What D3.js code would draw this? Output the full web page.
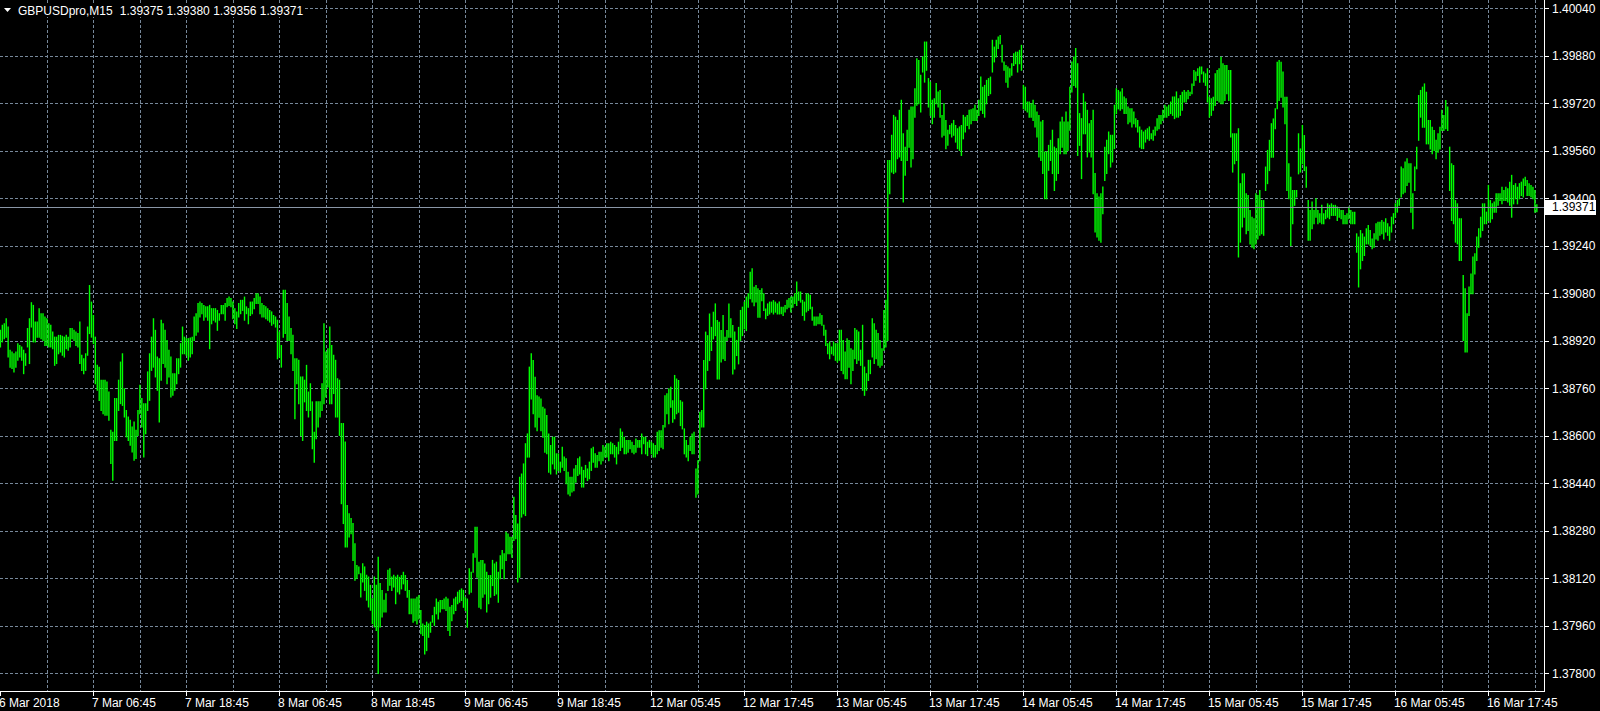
<!DOCTYPE html>
<html>
<head>
<meta charset="utf-8">
<script src="https://cdn.jsdelivr.net/npm/d3@7"></script>
<style>
  html, body { margin: 0; padding: 0; background: #000; overflow: hidden; }
  svg { display: block; }
  text { font-family: "Liberation Sans", Arial, sans-serif; font-size: 12px; fill: #fff; }
</style>
</head>
<body>
<div id="chart"></div>
<script>
// symbol / last bar (open, high, low, close)
var symbol = "GBPUSDpro,M15";
var lastOHLC = [1.39375, 1.39380, 1.39356, 1.39371];

// price axis labels
var priceTicks = [1.37800, 1.37960, 1.38120, 1.38280, 1.38440, 1.38600, 1.38760, 1.38920,
                  1.39080, 1.39240, 1.39400, 1.39560, 1.39720, 1.39880, 1.40040];

// time axis labels, one every 48 bars (12 hours of M15)
var timeLabels = ["6 Mar 2018", "7 Mar 06:45", "7 Mar 18:45", "8 Mar 06:45", "8 Mar 18:45",
                  "9 Mar 06:45", "9 Mar 18:45", "12 Mar 05:45", "12 Mar 17:45", "13 Mar 05:45",
                  "13 Mar 17:45", "14 Mar 05:45", "14 Mar 17:45", "15 Mar 05:45", "15 Mar 17:45",
                  "16 Mar 05:45", "16 Mar 17:45"];
var timeLabelBars = [0, 48, 96, 144, 192, 240, 288, 336, 384, 432, 480, 528, 576, 624, 672, 720, 768];

// bar highs, oldest first
var highs = [
1.38957,1.38974,1.38979,1.38996,1.38968,1.38890,1.38884,1.38878,1.38884,1.38912,
1.38906,1.38901,1.38890,1.38878,1.38963,1.38996,1.39050,1.39041,1.38985,1.38985,
1.39030,1.39013,1.39013,1.39002,1.38996,1.38979,1.38974,1.38951,1.38934,1.38934,
1.38940,1.38940,1.38937,1.38934,1.38940,1.38934,1.38963,1.38963,1.38957,1.38951,
1.38946,1.38985,1.38873,1.38861,1.38878,1.38968,1.39108,1.39052,1.39007,1.38934,
1.38839,1.38833,1.38789,1.38789,1.38789,1.38783,1.38749,1.38620,1.38614,1.38727,
1.38727,1.38789,1.38850,1.38878,1.38760,1.38687,1.38665,1.38654,1.38631,1.38648,
1.38620,1.38687,1.38772,1.38727,1.38710,1.38710,1.38817,1.38878,1.38934,1.38996,
1.38957,1.38867,1.38861,1.38991,1.38979,1.38957,1.38923,1.38890,1.38867,1.38811,
1.38811,1.38861,1.38861,1.38912,1.38968,1.38934,1.38929,1.38929,1.38931,1.38934,
1.39002,1.39013,1.39047,1.39052,1.39047,1.39041,1.39036,1.39036,1.39041,1.39030,
1.39030,1.39030,1.39024,1.39013,1.39041,1.39041,1.39047,1.39064,1.39069,1.39064,
1.39052,1.39030,1.39019,1.39047,1.39058,1.39058,1.39069,1.39036,1.39030,1.39052,
1.39052,1.39064,1.39080,1.39080,1.39069,1.39047,1.39041,1.39036,1.39030,1.39024,
1.39019,1.39007,1.39002,1.38991,1.38951,1.38906,1.39092,1.39092,1.39047,1.39002,
1.38963,1.38940,1.38861,1.38861,1.38856,1.38800,1.38800,1.38789,1.38839,1.38749,
1.38777,1.38716,1.38614,1.38716,1.38716,1.38716,1.38777,1.38979,1.38884,1.38895,
1.38968,1.38906,1.38873,1.38856,1.38794,1.38789,1.38643,1.38643,1.38581,1.38367,
1.38339,1.38323,1.38306,1.38238,1.38165,1.38160,1.38137,1.38171,1.38160,1.38132,
1.38126,1.38098,1.38053,1.38126,1.38098,1.38193,1.38104,1.38081,1.38048,1.38070,
1.38149,1.38154,1.38126,1.38132,1.38126,1.38132,
1.38125,1.38131,1.38142,1.38131,1.38114,1.38081,1.38052,1.38052,1.38052,1.38058,
1.38064,1.38013,1.37968,1.37963,1.37974,1.37968,1.37974,1.37996,1.38024,1.38052,
1.38041,1.38047,1.38047,1.38052,1.38058,1.38052,1.38024,1.38030,1.38052,1.38058,
1.38075,1.38081,1.38086,1.38081,1.38058,1.38052,1.38154,1.38142,1.38204,1.38294,
1.38294,1.38176,1.38182,1.38182,1.38170,1.38142,1.38131,1.38131,1.38182,1.38170,
1.38176,1.38142,1.38198,1.38215,1.38204,1.38277,1.38271,1.38260,1.38260,1.38395,
1.38333,1.38305,1.38462,1.38473,1.38507,1.38575,1.38608,1.38833,1.38878,1.38855,
1.38799,1.38737,1.38732,1.38726,1.38698,1.38692,1.38670,1.38608,1.38569,1.38597,
1.38597,1.38541,1.38541,1.38513,1.38563,1.38530,1.38524,1.38479,1.38462,1.38462,
1.38490,1.38502,1.38524,1.38530,1.38496,1.38485,1.38502,1.38490,1.38513,1.38558,
1.38563,1.38541,1.38535,1.38546,1.38546,1.38569,1.38563,1.38575,1.38575,1.38580,
1.38575,1.38569,1.38563,1.38580,1.38625,1.38614,1.38597,1.38586,1.38586,1.38586,
1.38580,1.38569,1.38591,1.38586,1.38586,1.38608,1.38597,1.38597,1.38580,1.38586,
1.38580,1.38575,1.38569,1.38614,1.38619,1.38619,1.38636,1.38737,1.38743,1.38760,
1.38765,1.38720,1.38805,1.38793,1.38788,1.38720,1.38715,1.38625,1.38586,1.38569,
1.38597,1.38608,1.38614,1.38490,1.38518,1.38681,1.38687,1.38855,1.38951,1.38939,
1.39012,1.38967,1.39018,1.39046,1.38990,1.38984,1.38956,1.39007,1.38934,1.38956,
1.39046,1.38996,1.38973,1.38951,1.38923,1.38967,1.39024,1.39035,1.39052,1.39069,
1.39080,1.39153,1.39164,1.39102,1.39108,1.39097,1.39091,1.39097,1.39080,1.39029,
1.39046,1.39052,1.39052,1.39057,1.39052,1.39046,1.39052,
1.39035,1.39035,1.39041,1.39058,1.39064,1.39069,1.39069,1.39080,1.39120,1.39086,
1.39086,1.39058,1.39052,1.39080,1.39080,1.39075,1.39035,1.39002,1.39002,1.39002,
1.39013,1.39007,1.38974,1.38957,1.38912,1.38918,1.38901,1.38918,1.38912,1.38912,
1.38957,1.38957,1.38923,1.38884,1.38929,1.38923,1.38895,1.38890,1.38963,1.38957,
1.38951,1.38890,1.38974,1.38833,1.38811,1.38856,1.38856,1.38996,1.38979,1.38957,
1.38946,1.38923,1.38895,1.39024,1.39058,1.39529,1.39529,1.39614,1.39681,1.39675,
1.39664,1.39698,1.39732,1.39619,1.39574,1.39631,1.39698,1.39709,1.39709,1.39771,
1.39872,1.39866,1.39816,1.39878,1.39928,1.39928,1.39805,1.39793,1.39732,1.39737,
1.39788,1.39760,1.39765,1.39681,1.39720,1.39664,1.39631,1.39647,1.39653,1.39664,
1.39647,1.39636,1.39642,1.39647,1.39681,1.39675,1.39681,1.39698,1.39700,1.39703,
1.39715,1.39698,1.39732,1.39810,1.39776,1.39782,1.39799,1.39805,1.39810,1.39934,
1.39911,1.39934,1.39945,1.39950,1.39917,1.39861,1.39849,1.39844,1.39838,1.39855,
1.39889,1.39894,1.39894,1.39900,1.39917,1.39782,1.39776,1.39726,1.39726,1.39720,
1.39732,1.39715,1.39692,1.39681,1.39659,1.39664,1.39558,1.39558,1.39580,1.39597,
1.39631,1.39574,1.39569,1.39602,1.39659,1.39675,1.39659,1.39692,1.39659,1.39776,
1.39861,1.39878,1.39906,1.39855,1.39687,1.39670,1.39754,1.39726,1.39698,1.39653,
1.39664,1.39698,1.39485,1.39417,1.39406,1.39417,1.39440,1.39574,1.39597,1.39625,
1.39614,1.39614,1.39715,1.39771,1.39765,1.39760,1.39771,1.39743,1.39737,1.39709,
1.39703,1.39703,1.39692,1.39670,1.39664,1.39642,1.39631,1.39625,1.39631,1.39636,
1.39642,1.39619,1.39631,1.39642,1.39670,1.39681,1.39681,1.39698,1.39715,1.39709,
1.39715,1.39726,1.39743,1.39743,1.39760,1.39737,
1.39748,1.39759,1.39765,1.39759,1.39765,1.39759,1.39787,1.39832,1.39827,1.39838,
1.39844,1.39844,1.39827,1.39821,1.39838,1.39742,1.39737,1.39742,1.39821,1.39832,
1.39838,1.39877,1.39855,1.39849,1.39849,1.39832,1.39832,1.39619,1.39619,1.39619,
1.39636,1.39451,1.39484,1.39484,1.39417,1.39411,1.39361,1.39338,1.39333,1.39417,
1.39411,1.39428,1.39394,1.39394,1.39507,1.39563,1.39597,1.39653,1.39669,1.39703,
1.39860,1.39866,1.39860,1.39827,1.39742,1.39742,1.39518,1.39473,1.39428,1.39428,
1.39428,1.39619,1.39568,1.39647,1.39613,1.39507,1.39394,1.39361,1.39389,1.39361,
1.39400,1.39361,1.39350,1.39378,1.39350,1.39361,1.39383,1.39378,1.39383,1.39378,
1.39378,1.39372,1.39366,1.39361,1.39361,1.39344,1.39350,1.39372,1.39361,1.39355,
1.39355,1.39282,1.39271,1.39293,1.39282,1.39271,1.39299,1.39310,1.39293,1.39265,
1.39282,1.39316,1.39321,1.39321,1.39327,1.39321,1.39333,1.39316,1.39305,1.39338,
1.39350,1.39383,1.39394,1.39400,1.39507,1.39501,1.39524,1.39535,1.39518,1.39518,
1.39417,1.39507,1.39574,1.39748,1.39765,1.39776,1.39787,1.39759,1.39664,1.39664,
1.39641,1.39630,1.39597,1.39619,1.39641,1.39698,1.39681,1.39731,1.39709,1.39574,
1.39518,1.39512,1.39394,1.39383,1.39333,1.39333,1.39142,1.39097,1.39013,1.39103,
1.39147,1.39204,1.39215,1.39271,1.39299,1.39338,1.39383,1.39383,1.39355,1.39445,
1.39394,1.39383,1.39389,1.39417,1.39417,1.39417,1.39439,1.39428,1.39439,1.39434,
1.39456,1.39479,1.39445,1.39451,1.39439,1.39451,1.39456,1.39467,1.39473,1.39462,
1.39451,1.39445,1.39439,1.39428,1.39380
];

// bar lows, oldest first
var lows = [
1.38901,1.38918,1.38929,1.38934,1.38867,1.38833,1.38828,1.38817,1.38833,1.38856,
1.38867,1.38856,1.38811,1.38839,1.38901,1.38845,1.38968,1.38918,1.38918,1.38934,
1.38934,1.38929,1.38923,1.38906,1.38906,1.38901,1.38901,1.38895,1.38839,1.38845,
1.38878,1.38884,1.38873,1.38867,1.38895,1.38890,1.38901,1.38929,1.38923,1.38906,
1.38901,1.38845,1.38822,1.38811,1.38822,1.38873,1.38946,1.38934,1.38912,1.38777,
1.38755,1.38721,1.38687,1.38676,1.38671,1.38671,1.38654,1.38508,1.38452,1.38586,
1.38586,1.38687,1.38710,1.38704,1.38665,1.38598,1.38586,1.38570,1.38547,1.38519,
1.38525,1.38603,1.38676,1.38631,1.38530,1.38609,1.38687,1.38721,1.38822,1.38833,
1.38800,1.38755,1.38648,1.38789,1.38845,1.38833,1.38777,1.38800,1.38732,1.38738,
1.38755,1.38777,1.38811,1.38833,1.38878,1.38878,1.38873,1.38856,1.38867,1.38878,
1.38923,1.38940,1.38951,1.39002,1.39013,1.38991,1.39002,1.38991,1.38895,1.38979,
1.38991,1.38985,1.38957,1.38991,1.39013,1.39013,1.38991,1.39036,1.39041,1.39036,
1.38996,1.38979,1.38963,1.39002,1.39013,1.39024,1.38991,1.39013,1.38979,1.39007,
1.39013,1.39030,1.39047,1.39047,1.39013,1.39002,1.39002,1.38996,1.38991,1.38985,
1.38974,1.38979,1.38968,1.38861,1.38867,1.38833,1.38934,1.38946,1.38923,1.38923,
1.38878,1.38822,1.38659,1.38777,1.38710,1.38603,1.38586,1.38716,1.38687,1.38665,
1.38687,1.38558,1.38513,1.38592,1.38631,1.38665,1.38687,1.38710,1.38732,1.38766,
1.38710,1.38710,1.38744,1.38665,1.38665,1.38603,1.38373,1.38306,1.38227,1.38227,
1.38261,1.38272,1.38182,1.38115,1.38121,1.38137,1.38059,1.38109,1.38081,1.38048,
1.38025,1.38014,1.37969,1.37958,1.37946,1.37801,1.37958,1.37991,1.38008,1.38008,
1.38081,1.38098,1.38081,1.38092,1.38036,1.38076,
1.38069,1.38086,1.38103,1.38081,1.38058,1.38002,1.38002,1.37974,1.37979,1.37968,
1.37985,1.37935,1.37929,1.37867,1.37878,1.37923,1.37940,1.37974,1.37963,1.38002,
1.37985,1.38008,1.38019,1.38019,1.38013,1.37946,1.37929,1.37979,1.38002,1.38013,
1.38036,1.38041,1.38047,1.38024,1.38013,1.37957,1.38069,1.38075,1.38142,1.38193,
1.38125,1.38024,1.38019,1.38058,1.38069,1.38008,1.38036,1.38058,1.38097,1.38064,
1.38069,1.38041,1.38120,1.38154,1.38120,1.38182,1.38204,1.38204,1.38193,1.38249,
1.38255,1.38109,1.38125,1.38328,1.38339,1.38333,1.38530,1.38530,1.38726,1.38676,
1.38631,1.38619,1.38664,1.38619,1.38597,1.38546,1.38541,1.38479,1.38473,1.38507,
1.38490,1.38473,1.38485,1.38479,1.38496,1.38485,1.38440,1.38406,1.38400,1.38412,
1.38417,1.38445,1.38468,1.38473,1.38429,1.38429,1.38462,1.38451,1.38457,1.38485,
1.38513,1.38496,1.38496,1.38518,1.38507,1.38518,1.38530,1.38530,1.38518,1.38541,
1.38541,1.38530,1.38507,1.38541,1.38552,1.38563,1.38541,1.38541,1.38546,1.38558,
1.38546,1.38541,1.38546,1.38563,1.38563,1.38541,1.38575,1.38541,1.38535,1.38563,
1.38541,1.38530,1.38530,1.38541,1.38552,1.38563,1.38558,1.38631,1.38676,1.38642,
1.38698,1.38647,1.38659,1.38676,1.38681,1.38636,1.38625,1.38541,1.38530,1.38518,
1.38552,1.38541,1.38541,1.38395,1.38406,1.38518,1.38631,1.38631,1.38760,1.38822,
1.38855,1.38889,1.38928,1.38939,1.38793,1.38793,1.38850,1.38861,1.38855,1.38923,
1.38934,1.38934,1.38810,1.38827,1.38872,1.38844,1.38923,1.38939,1.38962,1.38956,
1.39035,1.39063,1.39052,1.39040,1.39052,1.39001,1.39001,1.39057,1.39024,1.38996,
1.39007,1.39012,1.39018,1.39012,1.39018,1.39012,1.39012,
1.39013,1.39007,1.39019,1.39030,1.39035,1.39019,1.39035,1.39047,1.39041,1.39058,
1.39052,1.39007,1.38991,1.39019,1.39024,1.39030,1.38991,1.38974,1.38974,1.38979,
1.38979,1.38974,1.38940,1.38906,1.38878,1.38861,1.38878,1.38873,1.38856,1.38850,
1.38856,1.38822,1.38811,1.38794,1.38794,1.38833,1.38777,1.38822,1.38861,1.38845,
1.38856,1.38839,1.38755,1.38738,1.38755,1.38788,1.38811,1.38867,1.38845,1.38861,
1.38839,1.38833,1.38839,1.38890,1.38901,1.38923,1.39417,1.39490,1.39485,1.39490,
1.39535,1.39541,1.39529,1.39389,1.39479,1.39529,1.39574,1.39507,1.39535,1.39675,
1.39715,1.39720,1.39692,1.39827,1.39793,1.39833,1.39709,1.39681,1.39653,1.39675,
1.39720,1.39709,1.39675,1.39608,1.39614,1.39569,1.39580,1.39619,1.39608,1.39614,
1.39591,1.39569,1.39563,1.39546,1.39602,1.39625,1.39647,1.39636,1.39653,1.39664,
1.39664,1.39664,1.39681,1.39698,1.39687,1.39675,1.39720,1.39748,1.39754,1.39827,
1.39861,1.39878,1.39906,1.39922,1.39861,1.39833,1.39793,1.39776,1.39810,1.39816,
1.39849,1.39855,1.39827,1.39855,1.39833,1.39703,1.39698,1.39692,1.39675,1.39675,
1.39664,1.39642,1.39608,1.39541,1.39529,1.39485,1.39400,1.39400,1.39496,1.39529,
1.39485,1.39428,1.39462,1.39485,1.39552,1.39574,1.39552,1.39552,1.39563,1.39631,
1.39760,1.39782,1.39776,1.39546,1.39580,1.39468,1.39619,1.39619,1.39541,1.39558,
1.39541,1.39417,1.39288,1.39271,1.39260,1.39254,1.39350,1.39462,1.39485,1.39552,
1.39507,1.39524,1.39569,1.39687,1.39703,1.39698,1.39703,1.39687,1.39687,1.39653,
1.39659,1.39642,1.39653,1.39642,1.39625,1.39574,1.39569,1.39569,1.39591,1.39602,
1.39597,1.39602,1.39597,1.39614,1.39631,1.39636,1.39653,1.39664,1.39675,1.39675,
1.39681,1.39687,1.39681,1.39670,1.39675,1.39675,
1.39681,1.39698,1.39726,1.39726,1.39737,1.39748,1.39754,1.39782,1.39799,1.39815,
1.39793,1.39821,1.39793,1.39782,1.39726,1.39675,1.39681,1.39698,1.39714,1.39731,
1.39726,1.39720,1.39720,1.39731,1.39754,1.39731,1.39608,1.39490,1.39518,1.39529,
1.39204,1.39254,1.39305,1.39338,1.39282,1.39293,1.39248,1.39237,1.39232,1.39248,
1.39265,1.39277,1.39282,1.39277,1.39428,1.39451,1.39495,1.39540,1.39540,1.39636,
1.39703,1.39731,1.39742,1.39709,1.39653,1.39428,1.39400,1.39243,1.39316,1.39378,
1.39406,1.39484,1.39490,1.39518,1.39495,1.39439,1.39260,1.39260,1.39299,1.39316,
1.39338,1.39316,1.39321,1.39316,1.39316,1.39333,1.39338,1.39333,1.39344,1.39344,
1.39344,1.39327,1.39338,1.39333,1.39316,1.39316,1.39316,1.39333,1.39316,1.39316,
1.39316,1.39220,1.39103,1.39164,1.39192,1.39209,1.39248,1.39248,1.39243,1.39232,
1.39237,1.39265,1.39260,1.39277,1.39282,1.39265,1.39288,1.39277,1.39260,1.39288,
1.39316,1.39338,1.39355,1.39378,1.39406,1.39417,1.39422,1.39445,1.39456,1.39355,
1.39299,1.39428,1.39501,1.39597,1.39675,1.39641,1.39641,1.39585,1.39585,1.39568,
1.39552,1.39563,1.39535,1.39557,1.39568,1.39630,1.39630,1.39636,1.39630,1.39428,
1.39327,1.39316,1.39254,1.39248,1.39192,1.39192,1.38923,1.38884,1.38884,1.39007,
1.39080,1.39080,1.39147,1.39192,1.39237,1.39271,1.39293,1.39316,1.39316,1.39327,
1.39321,1.39333,1.39355,1.39355,1.39378,1.39394,1.39383,1.39394,1.39394,1.39389,
1.39378,1.39338,1.39383,1.39400,1.39383,1.39400,1.39411,1.39406,1.39445,1.39411,
1.39411,1.39406,1.39400,1.39355,1.39356
];

var W = 1600, H = 711;
var axisX = 1544, axisY = 691;
var gridColor = "#77889a";

var svg = d3.select("#chart").append("svg")
    .attr("width", W)
    .attr("height", H)
    .style("background", "#000");

// bar index -> x, price -> y
var x = d3.scaleLinear().domain([0, 768]).range([0.4, 1488.4]);
var y = d3.scaleLinear().domain([1.37800, 1.40040]).range([673.3, 8.3]);

// ---- grid ----
var vBars = d3.range(24, highs.length, 24);
svg.append("g").selectAll("line")
    .data(vBars)
  .enter().append("line")
    .attr("x1", function(d) { return Math.round(x(d)) + 0.5; })
    .attr("x2", function(d) { return Math.round(x(d)) + 0.5; })
    .attr("y1", 0)
    .attr("y2", axisY)
    .attr("stroke", gridColor)
    .attr("stroke-dasharray", "3,2")
    .attr("shape-rendering", "crispEdges");

svg.append("g").selectAll("line")
    .data(priceTicks)
  .enter().append("line")
    .attr("x1", 0)
    .attr("x2", axisX)
    .attr("y1", function(d) { return Math.round(y(d)) + 0.5; })
    .attr("y2", function(d) { return Math.round(y(d)) + 0.5; })
    .attr("stroke", gridColor)
    .attr("stroke-dasharray", "3,2")
    .attr("shape-rendering", "crispEdges");

// ---- bars (high-low) ----
svg.append("g").selectAll("line")
    .data(highs)
  .enter().append("line")
    .attr("x1", function(d, i) { return x(i); })
    .attr("x2", function(d, i) { return x(i); })
    .attr("y1", function(d) { return y(d); })
    .attr("y2", function(d, i) { return y(lows[i]) + 1; })
    .attr("stroke", "#00ff00")
    .attr("stroke-width", 1.4);

// ---- bid line ----
var close = lastOHLC[3];
svg.append("line")
    .attr("x1", 0).attr("x2", axisX)
    .attr("y1", Math.round(y(close)) + 0.5)
    .attr("y2", Math.round(y(close)) + 0.5)
    .attr("stroke", "#8a96a6")
    .attr("stroke-width", 1)
    .attr("shape-rendering", "crispEdges");

// ---- axes ----
svg.append("line")
    .attr("x1", axisX + 0.5).attr("x2", axisX + 0.5)
    .attr("y1", 0).attr("y2", axisY + 1)
    .attr("stroke", "#fff").attr("shape-rendering", "crispEdges");
svg.append("line")
    .attr("x1", 0).attr("x2", axisX + 1)
    .attr("y1", axisY + 0.5).attr("y2", axisY + 0.5)
    .attr("stroke", "#fff").attr("shape-rendering", "crispEdges");

// price labels + ticks (the one under the bid box is left partly hidden, as in MT4)
var py = svg.append("g");
py.selectAll("line")
    .data(priceTicks)
  .enter().append("line")
    .attr("x1", axisX).attr("x2", axisX + 5)
    .attr("y1", function(d) { return Math.round(y(d)) + 0.5; })
    .attr("y2", function(d) { return Math.round(y(d)) + 0.5; })
    .attr("stroke", "#fff").attr("shape-rendering", "crispEdges");
py.selectAll("text")
    .data(priceTicks)
  .enter().append("text")
    .attr("x", axisX + 8)
    .attr("y", function(d) { return y(d) + 4.5; })
    .text(function(d) { return d.toFixed(5); });

// time labels + ticks
var tx = svg.append("g");
tx.selectAll("line")
    .data(timeLabelBars)
  .enter().append("line")
    .attr("x1", function(d) { return Math.round(x(d)) + 0.5; })
    .attr("x2", function(d) { return Math.round(x(d)) + 0.5; })
    .attr("y1", axisY).attr("y2", axisY + 5)
    .attr("stroke", "#fff").attr("shape-rendering", "crispEdges");
tx.selectAll("text")
    .data(timeLabelBars)
  .enter().append("text")
    .attr("x", function(d) { return x(d) - 1.5; })
    .attr("y", 707)
    .text(function(d, i) { return timeLabels[i]; });

// bid label box
svg.append("rect")
    .attr("x", axisX + 1).attr("y", Math.round(y(close)) - 7)
    .attr("width", 51).attr("height", 15)
    .attr("fill", "#fff");
svg.append("text")
    .attr("x", axisX + 8)
    .attr("y", y(close) + 4.5)
    .style("fill", "#000")
    .text(close.toFixed(5));

// ---- title ----
svg.append("rect")
    .attr("x", 0).attr("y", 3).attr("width", 304).attr("height", 14)
    .attr("fill", "#000");
svg.append("path")
    .attr("d", "M4,8 L11,8 L7.5,12 Z")
    .attr("fill", "#fff");
var sym = svg.append("text")
    .attr("x", 18).attr("y", 15)
    .text(symbol);
var symEnd = 18 + sym.node().getComputedTextLength();
svg.append("text")
    .attr("x", symEnd + 7).attr("y", 15)
    .text(lastOHLC.map(function(d) { return d.toFixed(5); }).join(" "));
</script>
</body>
</html>
